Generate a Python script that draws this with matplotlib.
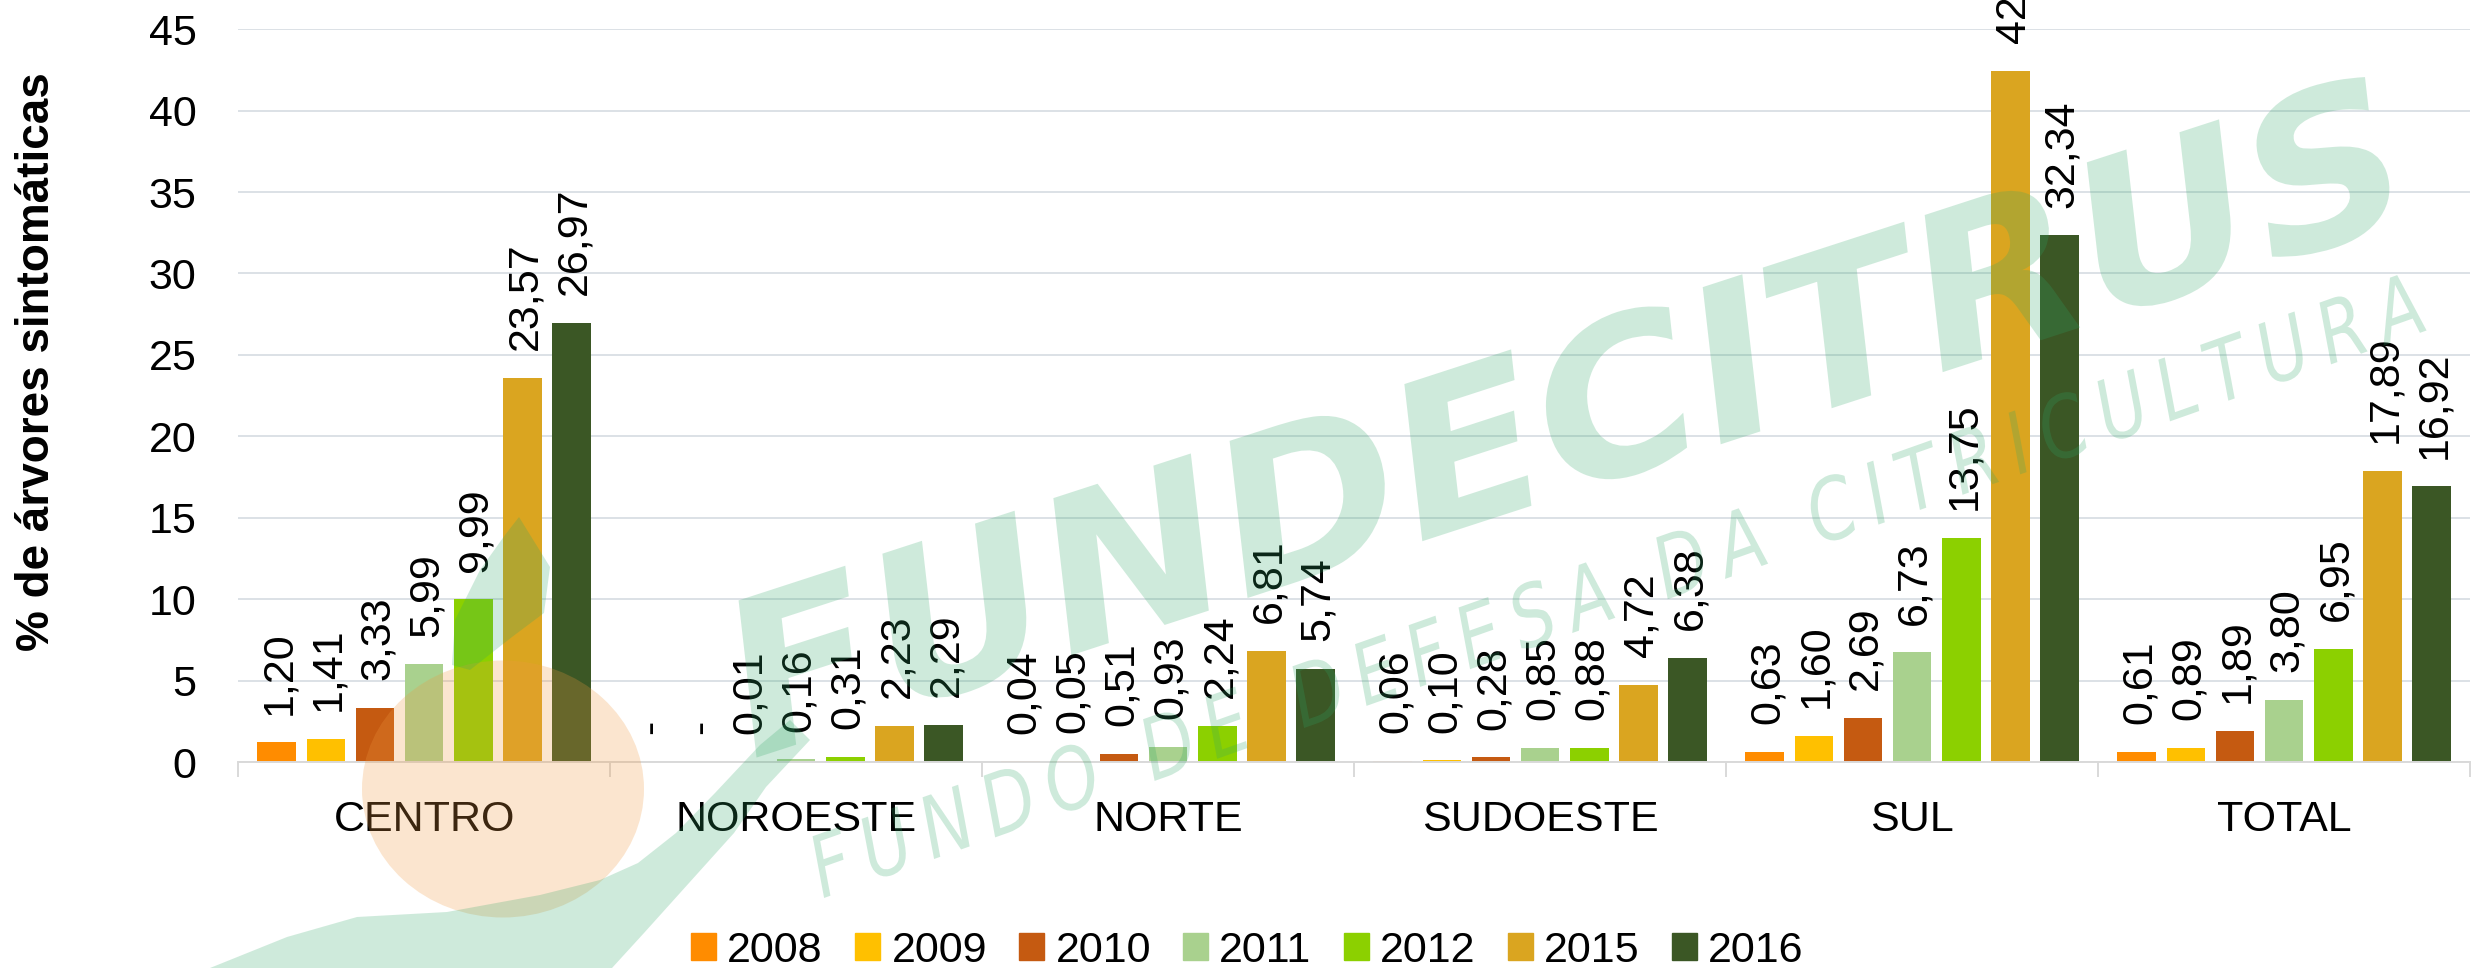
"""
Bar chart of symptomatic trees per region and year, with the watermark logo
"""

import numpy as np
import matplotlib.pyplot as plt
from matplotlib.patches import Rectangle, Ellipse, Polygon, PathPatch
from matplotlib.textpath import TextPath
from matplotlib.font_manager import FontProperties
from matplotlib.transforms import Affine2D, IdentityTransform

plt.rcParams.update({
    'font.family': ['Liberation Sans', 'DejaVu Sans'],
    'font.size': 31,
})

regions = ['CENTRO', 'NOROESTE', 'NORTE', 'SUDOESTE', 'SUL', 'TOTAL']
years = ['2008', '2009', '2010', '2011', '2012', '2015', '2016']

# one list per year, values for each region (0 is shown as "-")
v2008 = [1.20, 0.00, 0.04, 0.06, 0.63, 0.61]
v2009 = [1.41, 0.00, 0.05, 0.10, 1.60, 0.89]
v2010 = [3.33, 0.01, 0.51, 0.28, 2.69, 1.89]
v2011 = [5.99, 0.16, 0.93, 0.85, 6.73, 3.80]
v2012 = [9.99, 0.31, 2.24, 0.88, 13.75, 6.95]
v2015 = [23.57, 2.23, 6.81, 4.72, 42.44, 17.89]
v2016 = [26.97, 2.29, 5.74, 6.38, 32.34, 16.92]

series = [v2008, v2009, v2010, v2011, v2012, v2015, v2016]
year_colors = ['#FF8C00', '#FFC000', '#C55A11', '#A9D18E', '#8CD000', '#DAA520', '#3B5725']

W, H = 2475, 968
fig = plt.figure(figsize=(W / 100, H / 100), dpi=100)
ax = fig.add_axes([0.0962, 0.2128, 0.9018, 0.7570])

x = np.arange(len(regions))
step = 0.132
width = 0.104

for i, (vals, col) in enumerate(zip(series, year_colors)):
    pos = x + (i - 3) * step
    ax.bar(pos, vals, width=width, color=col, label=years[i], zorder=2)
    for px, v in zip(pos, vals):
        txt = '-' if v == 0 else f'{v:.2f}'.replace('.', ',')
        ax.annotate(txt, (px, v), xytext=(2, 20), textcoords='offset points',
                    rotation=90, ha='center', va='bottom', fontsize=31,
                    annotation_clip=False)

ax.set_xlim(-0.5, len(regions) - 0.5)
ax.set_ylim(0, 45)
ax.set_yticks(np.arange(0, 46, 5))
ax.yaxis.grid(True, color='#DCE1E6', linewidth=1.4, zorder=0)
ax.set_axisbelow(True)

ax.set_xticks(x)
ax.set_xticklabels(regions)
ax.set_xticks(np.arange(-0.5, len(regions)), minor=True)
ax.tick_params(axis='x', which='major', length=0, pad=27, labelsize=31)
ax.tick_params(axis='x', which='minor', length=11, width=1.4, color='#D9D9D9')
ax.tick_params(axis='y', length=0, pad=30, labelsize=31)

for s in ['top', 'right', 'left']:
    ax.spines[s].set_visible(False)
ax.spines['bottom'].set_color('#D9D9D9')
ax.spines['bottom'].set_linewidth(1.4)

fig.text(0.015, 0.626, '% de árvores sintomáticas', rotation=90,
         ha='center', va='center', fontsize=33, fontweight='bold')

handles = [Rectangle((0, 0), 1, 1, color=c) for c in year_colors]
fig.legend(handles, years, loc='center', bbox_to_anchor=(0.504, 0.018),
           ncol=7, frameon=False, fontsize=31, handlelength=0.58,
           handleheight=0.6, handletextpad=0.26, columnspacing=0.75,
           borderpad=0, borderaxespad=0)

# --- watermark (pixel coords, y measured from top of image) ---
mint = (0.18, 0.65, 0.40)
wm_alpha = 0.23


def flip(pts):
    return [(px, H - py) for px, py in pts]


def add_text_path(s, center, length, cap, angle, weight):
    prop = FontProperties(family='DejaVu Sans', style='oblique', weight=weight)
    tp = TextPath((0, 0), s, size=1, prop=prop)
    ext = tp.get_extents()
    capp = TextPath((0, 0), 'H', size=1, prop=prop).get_extents().height
    tr = (Affine2D()
          .translate(-(ext.x0 + ext.width / 2), -capp / 2)
          .scale(length / ext.width, cap / capp)
          .rotate_deg(angle)
          .translate(center[0], H - center[1]))
    patch = PathPatch(tr.transform_path(tp), facecolor=mint, edgecolor='none',
                      alpha=wm_alpha, transform=IdentityTransform(), zorder=10)
    fig.add_artist(patch)


fig.add_artist(Ellipse((503, H - 789), 282, 257, facecolor=(0.94, 0.6, 0.25),
                       edgecolor='none', alpha=0.25,
                       transform=IdentityTransform(), zorder=10))

leaf = [(519, 517), (550, 567), (544, 613), (512, 637), (470, 670),
        (452, 665), (455, 620), (480, 570), (505, 535)]
fig.add_artist(Polygon(flip(leaf), closed=True, facecolor=mint, edgecolor='none',
                       alpha=wm_alpha, transform=IdentityTransform(), zorder=10))

swoosh = [(210, 968), (287, 937), (357, 917), (447, 912), (540, 895), (600, 880),
          (638, 863), (676, 833), (715, 793), (760, 745), (790, 720),
          (810, 740), (766, 787), (734, 833), (689, 883), (644, 933), (612, 968)]
fig.add_artist(Polygon(flip(swoosh), closed=True, facecolor=mint, edgecolor='none',
                       alpha=wm_alpha, transform=IdentityTransform(), zorder=10))

add_text_path('FUNDECITRUS', (1560, 415), 1740, 155, 18, 'bold')
add_text_path('\u2009'.join('FUNDO DE DEFESA DA CITRICULTURA'), (1615, 585),
              1700, 62, 19.5, 'normal')

fig.savefig('out.png', dpi=100)
